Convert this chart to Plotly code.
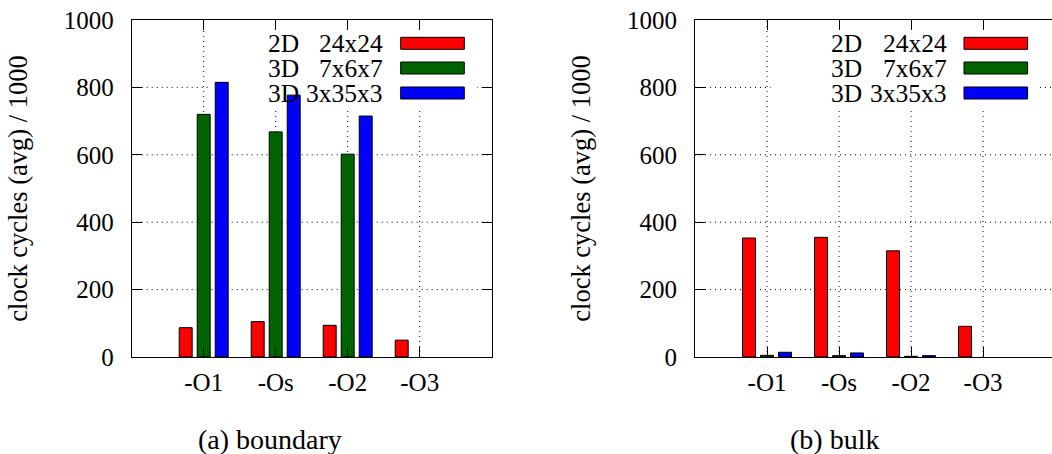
import plotly.graph_objects as go

categories = ["-O1", "-Os", "-O2", "-O3"]
series_names = ["2D 24x24", "3D 7x6x7", "3D 3x35x3"]
series_colors = ["#ff0000", "#006400", "#0000ff"]

boundary_2d_24x24 = [87, 105, 94, 50]
boundary_3d_7x6x7 = [720, 668, 602, None]
boundary_3d_3x35x3 = [815, 777, 715, None]

bulk_2d_24x24 = [353, 355, 315, 91]
bulk_3d_7x6x7 = [5, 4, 2, None]
bulk_3d_3x35x3 = [14, 12, 4, None]

y_ticks = [0, 200, 400, 600, 800, 1000]
y_title = "clock cycles (avg) / 1000"
captions = ["(a) boundary", "(b) bulk"]

W, H = 1052, 454
FONT = "Liberation Serif, Times New Roman, serif"
TICK_SIZE = 25

fig = go.Figure()

panels = [
    ("x", "y", [boundary_2d_24x24, boundary_3d_7x6x7, boundary_3d_3x35x3]),
    ("x2", "y2", [bulk_2d_24x24, bulk_3d_7x6x7, bulk_3d_3x35x3]),
]
for xa, ya, data in panels:
    for name, color, vals in zip(series_names, series_colors, data):
        fig.add_trace(go.Bar(
            x=categories, y=vals, name=name, xaxis=xa, yaxis=ya,
            marker=dict(color=color, line=dict(color="black", width=1)),
            showlegend=False,
        ))

# pixel geometry
left_x0, left_x1 = 131.7, 491.7
shift = 563.3
right_x0 = left_x0 + shift
top_px, bot_px = 20, 357
ydom = [1 - bot_px / H, 1 - top_px / H]
px_per_cat = (left_x1 - left_x0) / 5.0
right_range_hi = -1 + (W - right_x0) / px_per_cat

def axis_common():
    return dict(
        showline=True, linecolor="black", linewidth=1,
        ticks="inside", tickcolor="black", ticklen=10, tickwidth=1,
        showgrid=False, automargin=False,
        tickfont=dict(family=FONT, size=TICK_SIZE, color="black"),
        zeroline=False,
    )

def ytitle():
    return dict(text=y_title, font=dict(family=FONT, size=26.5, color="black"), standoff=28)

fig.update_layout(
    width=W, height=H,
    margin=dict(l=0, r=0, t=0, b=0, pad=0, autoexpand=False),
    paper_bgcolor="white", plot_bgcolor="white",
    barmode="group", bargap=0.25, bargroupgap=0.28,
    font=dict(family=FONT, color="black"),
    xaxis=dict(domain=[left_x0 / W, left_x1 / W], range=[-1, 4], anchor="y",
               type="category", mirror="ticks", ticklabelstandoff=3, **axis_common()),
    yaxis=dict(domain=ydom, range=[0, 1000], anchor="x", tickvals=y_ticks,
               mirror="ticks", ticklabelstandoff=12, title=ytitle(), **axis_common()),
    xaxis2=dict(domain=[right_x0 / W, 1.0], range=[-1, right_range_hi], anchor="y2",
                type="category", mirror="ticks", ticklabelstandoff=3, **axis_common()),
    yaxis2=dict(domain=ydom, range=[0, 1000], anchor="x2", tickvals=y_ticks,
                mirror=False, ticklabelstandoff=12, title=ytitle(), **axis_common()),
)

GRID = dict(color="black", width=1, dash="1px,4px")

key_rows_px = [43.3, 68.0, 93.0]
for i, (xa, ya) in enumerate([("x", "y"), ("x2", "y2")]):
    off = i * shift
    xdom = xa + " domain"
    ydomref = ya + " domain"
    # dotted grid (drawn as shapes beneath the bars)
    for k in range(len(categories)):
        fig.add_shape(type="line", xref=xa, yref=ydomref, x0=k, x1=k, y0=0, y1=1,
                      line=GRID, layer="below")
    for t in y_ticks[1:-1]:
        fig.add_shape(type="line", xref=xdom, yref=ya, x0=0, x1=1, y0=t, y1=t,
                      line=GRID, layer="below")
    # opaque key background hides the grid, still beneath the bars
    x0 = left_x0 + off
    fig.add_shape(type="rect", xref=xdom, yref=ydomref,
                  x0=(208 + off - x0) / 360.0, x1=(477 + off - x0) / 360.0,
                  y0=(bot_px - 108) / (bot_px - top_px), y1=0.997,
                  fillcolor="white", line=dict(width=0), layer="below")
    for name, color, yc in zip(series_names, series_colors, key_rows_px):
        dim, size = name.split(" ", 1)
        yp = 1 - yc / H
        fig.add_annotation(xref="paper", yref="paper", x=(266.7 + off) / W, y=yp,
                           text=dim, showarrow=False, xanchor="left", yanchor="middle",
                           height=23, borderpad=0, valign="middle",
                           font=dict(family=FONT, size=25.5, color="black"))
        fig.add_annotation(xref="paper", yref="paper", x=(384.3 + off) / W, y=yp,
                           text=size, showarrow=False, xanchor="right", yanchor="middle",
                           height=23, borderpad=0, valign="middle",
                           font=dict(family=FONT, size=25.5, color="black"))
        fig.add_shape(type="rect", xref="paper", yref="paper",
                      x0=(400.7 + off) / W, x1=(464.3 + off) / W,
                      y0=1 - (yc + 6) / H, y1=1 - (yc - 6) / H,
                      fillcolor=color, line=dict(color="black", width=1), layer="above")

# captions
for cap, cx in zip(captions, [270, 834]):
    fig.add_annotation(xref="paper", yref="paper", x=cx / W, y=1 - 439 / H,
                       text=cap, showarrow=False, xanchor="center", yanchor="middle",
                       font=dict(family=FONT, size=28, color="black"))

fig.write_html("out.html")
